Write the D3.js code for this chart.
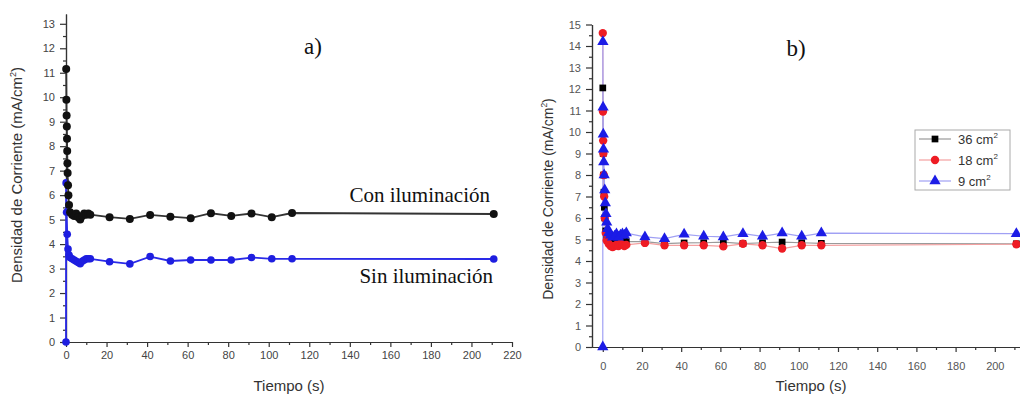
<html>
  <head>
    <meta charset="utf-8">
    <script src="https://d3js.org/d3.v7.min.js" charset="utf-8"></script>
    <style>
      body { margin: 0; background: #fff; }
    </style>
  </head>
  <body>
    <script>
      // ---- panel a) : con / sin iluminacion ----
      var conTime = [0.1, 0.2, 0.3, 0.4, 0.5, 0.6, 0.7, 0.8, 1.0, 1.2, 1.5, 2, 3, 4, 5, 6, 7, 8, 9, 10, 11, 12,
                     21.5, 31.5, 41.5, 51.5, 61.5, 71.5, 81.5, 91.5, 101.5, 111.5, 211]
      var conIlum = [11.15, 9.9, 9.25, 8.8, 8.3, 7.8, 7.3, 6.9, 6.4, 6.0, 5.6, 5.3, 5.2, 5.15, 5.25, 5.1, 5.0, 5.15, 5.25, 5.2, 5.25, 5.2,
                     5.10, 5.03, 5.19, 5.12, 5.06, 5.26, 5.15, 5.25, 5.10, 5.27, 5.23]
      var sinTime = [0, 0.05, 0.3, 0.6, 1, 1.5, 2, 3, 4, 5, 6, 7, 8, 9, 10, 11, 12,
                     21.5, 31.5, 41.5, 51.5, 61.5, 71.5, 81.5, 91.5, 101.5, 111.5, 211]
      var sinIlum = [0, 6.5, 5.3, 4.4, 3.8, 3.55, 3.45, 3.4, 3.35, 3.3, 3.25, 3.2, 3.3, 3.35, 3.4, 3.4, 3.4,
                     3.28, 3.19, 3.49, 3.31, 3.35, 3.35, 3.35, 3.45, 3.4, 3.4, 3.39]
      var aXTicks = [0, 20, 40, 60, 80, 100, 120, 140, 160, 180, 200, 220]
      var aYTicks = [0, 1, 2, 3, 4, 5, 6, 7, 8, 9, 10, 11, 12, 13]

      // ---- panel b) : areas ----
      var t36 = [0, 0.2, 0.4, 0.6, 0.8, 1, 1.5, 2, 3, 4, 5, 6, 7, 8, 9, 10, 11, 12,
                 21.5, 31.5, 41.5, 51.5, 61.5, 71.5, 81.5, 91.5, 101.5, 111.5, 211]
      var d36 = [12.05, 9.0, 8.0, 7.2, 6.5, 6.0, 5.4, 5.1, 5.0, 4.95, 4.9, 4.95, 5.0, 4.9, 4.95, 5.0, 4.95, 4.9,
                 4.9, 4.81, 4.84, 4.85, 4.88, 4.81, 4.85, 4.88, 4.85, 4.82, 4.8]
      var t18 = [0, 0.1, 0.2, 0.3, 0.5, 0.7, 1, 1.5, 2, 3, 4, 5, 6, 7, 8, 9, 10, 11, 12,
                 21.5, 31.5, 41.5, 51.5, 61.5, 71.5, 81.5, 91.5, 101.5, 111.5, 211]
      var d18 = [14.6, 10.95, 9.6, 9.0, 8.0, 7.0, 6.0, 5.3, 4.95, 4.8, 4.7, 4.65, 4.7, 4.75, 4.7, 4.8, 4.75, 4.7, 4.75,
                 4.84, 4.73, 4.73, 4.73, 4.68, 4.80, 4.73, 4.58, 4.73, 4.73, 4.78]
      var t9 = [0, 0.05, 0.15, 0.25, 0.35, 0.5, 0.7, 1, 1.3, 1.6, 2, 2.5, 3, 4, 5, 6, 7, 8, 9, 10, 11, 12,
                21.5, 31.5, 41.5, 51.5, 61.5, 71.5, 81.5, 91.5, 101.5, 111.5, 211]
      var d9 = [0, 14.2, 11.15, 9.9, 9.2, 8.6, 8.0, 7.3, 6.7, 6.2, 5.8, 5.5, 5.3, 5.2, 5.1, 5.15, 5.25, 5.1, 5.2, 5.25, 5.2, 5.3,
                5.12, 5.04, 5.24, 5.15, 5.12, 5.27, 5.15, 5.30, 5.15, 5.30, 5.27]
      var bLegend = ["36 cm", "18 cm", "9 cm"]
      var bXTicks = [0, 20, 40, 60, 80, 100, 120, 140, 160, 180, 200]
      var bYTicks = [0, 1, 2, 3, 4, 5, 6, 7, 8, 9, 10, 11, 12, 13, 14, 15]

      var sans = "Liberation Sans, Arial, sans-serif"
      var serif = "Liberation Serif, Times New Roman, serif"

      var svg = d3.select("body").append("svg")
        .attr("width", 1020)
        .attr("height", 394)
        .attr("font-family", sans)

      function zip(xs, ys) {
        return xs.map(function(x, i) { return [x, ys[i]] })
      }

      // axes with major + minor ticks
      function yAxis(g, scale, major, minor, tickColor, fs) {
        g.append("g").call(d3.axisLeft(scale).tickValues(minor).tickSize(3).tickFormat("").tickSizeOuter(0))
        g.append("g").call(d3.axisLeft(scale).tickValues(major).tickSize(6).tickPadding(5).tickSizeOuter(0))
        g.selectAll("path,line").attr("stroke", "#333").attr("stroke-width", 1.2)
        g.selectAll("text").attr("font-size", fs).attr("fill", tickColor).attr("font-family", sans)
      }
      function xAxis(g, scale, major, minor, tickColor, pad) {
        g.append("g").call(d3.axisBottom(scale).tickValues(minor).tickSize(3).tickFormat("").tickSizeOuter(0))
        g.append("g").call(d3.axisBottom(scale).tickValues(major).tickSize(5).tickPadding(pad).tickSizeOuter(0))
        g.selectAll("path,line").attr("stroke", "#333").attr("stroke-width", 1.2)
        g.selectAll("text").attr("font-size", 11).attr("fill", tickColor).attr("font-family", sans)
      }

      function yTitle(x, y, fs) {
        var t = svg.append("text")
          .attr("transform", "translate(" + x + "," + y + ") rotate(-90)")
          .attr("text-anchor", "middle")
          .attr("font-size", fs)
          .attr("fill", "#333")
        t.append("tspan").text("Densidad de Corriente (mA/cm")
        t.append("tspan").attr("font-size", fs * 0.6).attr("dy", -fs * 0.4).text("2")
        t.append("tspan").attr("dy", fs * 0.4).text(")")
      }

      // ================= panel a =================
      var xA = d3.scaleLinear().domain([0, 220]).range([66, 512])
      var yA = d3.scaleLinear().domain([0, 13.4]).range([342, 14])

      xAxis(svg.append("g").attr("transform", "translate(0,342)"), xA, aXTicks, d3.range(10, 220, 20), "#444", 4)
      yAxis(svg.append("g").attr("transform", "translate(66,0)"), yA, aYTicks, d3.range(0.5, 13.5, 1), "#444", 11)

      var lineA = d3.line().x(function(d) { return xA(d[0]) }).y(function(d) { return yA(d[1]) })

      var con = zip(conTime, conIlum)
      var sin = zip(sinTime, sinIlum)

      svg.append("path").datum(sin).attr("d", lineA)
        .attr("fill", "none").attr("stroke", "#2a2ae8").attr("stroke-width", 1.8)
      svg.selectAll(".sinDot").data(sin).enter().append("circle")
        .attr("cx", function(d) { return xA(d[0]) })
        .attr("cy", function(d) { return yA(d[1]) })
        .attr("r", 3.8)
        .attr("fill", "#1e1ee0")

      svg.append("path").datum(con).attr("d", lineA)
        .attr("fill", "none").attr("stroke", "#333").attr("stroke-width", 1.8)
      svg.selectAll(".conDot").data(con).enter().append("circle")
        .attr("cx", function(d) { return xA(d[0]) })
        .attr("cy", function(d) { return yA(d[1]) })
        .attr("r", 4)
        .attr("fill", "#111")

      svg.append("text").attr("x", 490).attr("y", 202).attr("text-anchor", "end")
        .attr("font-family", serif).attr("font-size", 21).attr("fill", "#111")
        .text("Con iluminación")
      svg.append("text").attr("x", 493).attr("y", 283).attr("text-anchor", "end")
        .attr("font-family", serif).attr("font-size", 21).attr("fill", "#111")
        .text("Sin iluminación")
      svg.append("text").attr("x", 313).attr("y", 54).attr("text-anchor", "middle")
        .attr("font-family", serif).attr("font-size", 23).attr("fill", "#111")
        .text("a)")

      yTitle(22, 175, 15)
      svg.append("text").attr("x", 289).attr("y", 391).attr("text-anchor", "middle")
        .attr("font-size", 15).attr("fill", "#333").text("Tiempo (s)")

      // ================= panel b =================
      var xB = d3.scaleLinear().domain([-5.5, 220]).range([592, 1034])
      var yB = d3.scaleLinear().domain([0, 15]).range([347, 24.5])

      xAxis(svg.append("g").attr("transform", "translate(0,347)"), xB, bXTicks, d3.range(10, 220, 20), "#555", 10)
      yAxis(svg.append("g").attr("transform", "translate(592,0)"), yB, bYTicks, d3.range(0.5, 15, 1), "#555", 11)

      var lineB = d3.line().x(function(d) { return xB(d[0]) }).y(function(d) { return yB(d[1]) })

      var s36 = zip(t36, d36)
      var s18 = zip(t18, d18)
      var s9 = zip(t9, d9)

      var series = [
        { data: s36, line: "#9a9a9a", fill: "#000", shape: d3.symbolSquare, size: 45 },
        { data: s18, line: "#f4a0a0", fill: "#ee1c24", shape: d3.symbolCircle, size: 55 },
        { data: s9, line: "#a0a0f4", fill: "#1c1ce6", shape: d3.symbolTriangle, size: 55 }
      ]
      series.forEach(function(s) {
        svg.append("path").datum(s.data).attr("d", lineB)
          .attr("fill", "none").attr("stroke", s.line).attr("stroke-width", 1.2)
      })
      series.forEach(function(s) {
        svg.append("g").selectAll("path").data(s.data).enter().append("path")
          .attr("transform", function(d) { return "translate(" + xB(d[0]) + "," + yB(d[1]) + ")" })
          .attr("d", d3.symbol().type(s.shape).size(s.size))
          .attr("fill", s.fill)
      })

      // legend
      var leg = svg.append("g").attr("transform", "translate(915,130)")
      leg.append("rect").attr("width", 95).attr("height", 60)
        .attr("fill", "#fff").attr("stroke", "#aaa").attr("stroke-width", 1)
      series.forEach(function(s, i) {
        var y = 9 + i * 21
        leg.append("line").attr("x1", 4).attr("x2", 36).attr("y1", y).attr("y2", y)
          .attr("stroke", s.line).attr("stroke-width", 1.2)
        leg.append("path").attr("transform", "translate(20," + y + ")")
          .attr("d", d3.symbol().type(s.shape).size(s.size)).attr("fill", s.fill)
        var t = leg.append("text").attr("x", 43).attr("y", y + 5)
          .attr("font-size", 13).attr("fill", "#333")
        t.append("tspan").text(bLegend[i])
        t.append("tspan").attr("font-size", 8).attr("dy", -6).text("2")
      })

      svg.append("text").attr("x", 796).attr("y", 56).attr("text-anchor", "middle")
        .attr("font-family", serif).attr("font-size", 23).attr("fill", "#111")
        .text("b)")

      yTitle(553, 199, 14)
      svg.append("text").attr("x", 811).attr("y", 391).attr("text-anchor", "middle")
        .attr("font-size", 15).attr("fill", "#333").text("Tiempo (s)")
    </script>
  </body>
</html>
